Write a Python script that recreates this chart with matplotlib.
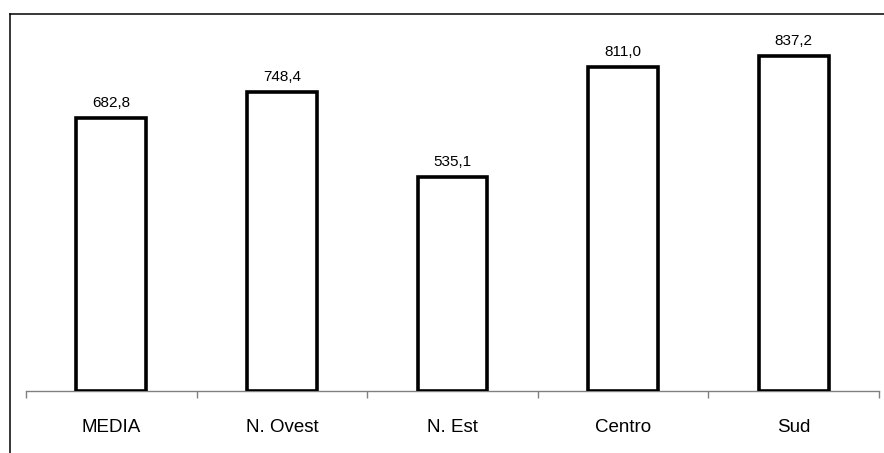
import matplotlib
matplotlib.use("Agg")
import matplotlib.pyplot as plt
from matplotlib.lines import Line2D
import numpy as np

categories = ["MEDIA", "N. Ovest", "N. Est", "Centro", "Sud"]
values = [682.8, 748.4, 535.1, 811.0, 837.2]
value_labels = ["682,8", "748,4", "535,1", "811,0", "837,2"]

plt.rcParams["font.family"] = ["Liberation Sans", "DejaVu Sans"]

W, H = 884, 453
fig = plt.figure(figsize=(W / 100, H / 100), dpi=100)
ax = fig.add_axes([26 / W, 1 - 391 / H, (879 - 26) / W, (391 - 20) / H])

x = np.arange(len(categories))
ax.bar(x, values, width=0.41, facecolor="white", edgecolor="black", linewidth=2.6, zorder=3)

for xi, v, lab in zip(x, values, value_labels):
    ax.annotate(lab, (xi, v), xytext=(0, 8), textcoords="offset pixels",
                ha="center", va="bottom", fontsize=11)

ax.set_xlim(-0.5, len(categories) - 0.5)
ax.set_ylim(0, 927.5)

ax.set_xticks(x)
ax.set_xticklabels(categories, fontsize=13.5)
ax.set_xticks(np.arange(len(categories) + 1) - 0.5, minor=True)
ax.tick_params(axis="x", which="major", length=0, pad=20)
ax.tick_params(axis="x", which="minor", length=5, width=1, color="#808080", direction="out")
ax.set_yticks([])

for side in ["top", "right", "left"]:
    ax.spines[side].set_visible(False)
ax.spines["bottom"].set_color("#808080")
ax.spines["bottom"].set_linewidth(1)
ax.spines["bottom"].set_zorder(2)

# outer frame of the chart area
fig.add_artist(Line2D([10 / W, 10 / W], [0, 1 - 14 / H], transform=fig.transFigure,
                      color="black", linewidth=1.1))
fig.add_artist(Line2D([10 / W, 1], [1 - 14 / H, 1 - 14 / H], transform=fig.transFigure,
                      color="black", linewidth=1.1))

fig.savefig("out.png", dpi=100)
